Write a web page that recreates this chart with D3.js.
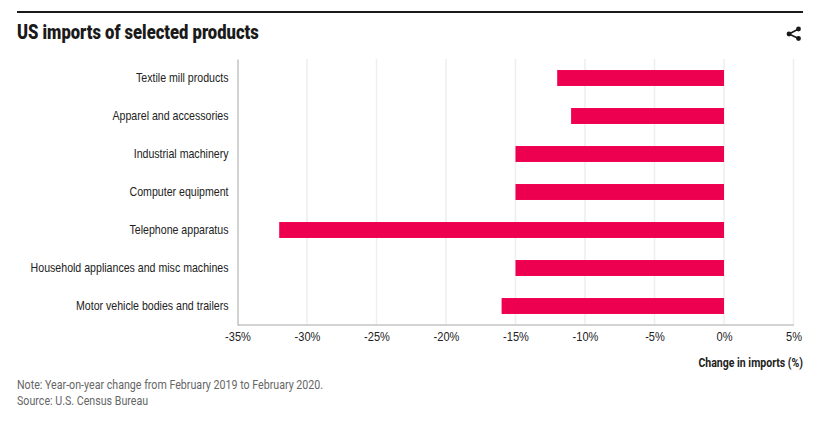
<!DOCTYPE html>
<html>
<head>
<meta charset="utf-8">
<script src="https://cdn.jsdelivr.net/npm/d3@7"></script>
<style>
  body { margin: 0; background: #fff; }
  svg { display: block; font-family: "Roboto", sans-serif; }
  .tick text { font-size: 13px; fill: #222; }
  .domain { stroke: #a6a6a6; }
</style>
</head>
<body>
<svg id="chart" width="837" height="423"></svg>
<script>
const categories = [
    "Textile mill products",
    "Apparel and accessories",
    "Industrial machinery",
    "Computer equipment",
    "Telephone apparatus",
    "Household appliances and misc machines",
    "Motor vehicle bodies and trailers"
];
const changes = [-12, -11, -15, -15, -32, -15, -16];
const xTicks = [-35, -30, -25, -20, -15, -10, -5, 0, 5];

// no condensed font installed, so squeeze the glyphs
function condense(sel, k) {
    sel.each(function() {
        let len = this.getComputedTextLength();
        d3.select(this).attr("textLength", len * k).attr("lengthAdjust", "spacingAndGlyphs");
    });
}

function createChart() {
    let svg = d3.select("#chart");

    let x = d3.scaleLinear().domain([-35, 5]).range([237.5, 793.5]);
    let y = d3.scaleBand().domain(categories).range([59, 325]).paddingInner(0.58).paddingOuter(0.29);

    // top rule and title
    svg.append("rect").attr("x", 17).attr("y", 11).attr("width", 786).attr("height", 2).attr("fill", "#1a1a1a");
    svg.append("text").attr("x", 17).attr("y", 39)
        .style("font-size", "21px").style("font-weight", "900").attr("fill", "#1a1a1a")
        .text("US imports of selected products")
        .call(condense, 0.79);

    // grid
    svg.append("g").selectAll("line")
        .data(xTicks.slice(1))
        .enter().append("line")
        .attr("x1", d => x(d)).attr("x2", d => x(d))
        .attr("y1", 59).attr("y2", 324)
        .attr("stroke", "#eeeeee")
        .attr("stroke-width", 1.5);

    // bars
    svg.append("g").selectAll("rect")
        .data(categories)
        .enter().append("rect")
        .attr("x", (d, i) => x(changes[i]))
        .attr("y", d => y(d))
        .attr("width", (d, i) => x(0) - x(changes[i]))
        .attr("height", y.bandwidth())
        .attr("fill", "#ee0051");

    // axes
    let xAxis = svg.append("g").attr("transform", "translate(0,324.5)")
        .call(d3.axisBottom(x).tickValues(xTicks).tickFormat(d => d + "%").tickSize(0).tickPadding(7));
    let yAxis = svg.append("g").attr("transform", "translate(237.5,0)")
        .call(d3.axisLeft(y).tickSize(0).tickPadding(9));
    svg.selectAll(".domain").attr("fill", "none");
    xAxis.selectAll("text").call(condense, 0.85);
    yAxis.selectAll("text").call(condense, 0.815);

    svg.append("text").attr("x", 803).attr("y", 367).attr("text-anchor", "end")
        .style("font-size", "13px").style("font-weight", "bold").attr("fill", "#222")
        .text("Change in imports (%)")
        .call(condense, 0.81);

    // footer
    svg.append("text").attr("x", 17).attr("y", 389)
        .style("font-size", "13px").attr("fill", "#666")
        .text("Note: Year-on-year change from February 2019 to February 2020.")
        .call(condense, 0.82);
    svg.append("text").attr("x", 17).attr("y", 405)
        .style("font-size", "13px").attr("fill", "#666")
        .text("Source: U.S. Census Bureau")
        .call(condense, 0.82);

    // share icon
    let icon = svg.append("g").attr("fill", "#1a1a1a").attr("stroke", "#1a1a1a");
    let pts = [[789, 34], [798.5, 29], [798.5, 38.5]];
    icon.selectAll("circle").data(pts).enter().append("circle")
        .attr("cx", d => d[0]).attr("cy", d => d[1]).attr("r", 2.4).attr("stroke", "none");
    icon.append("path").attr("fill", "none").attr("stroke-width", 1.6)
        .attr("d", d3.line()([pts[1], pts[0], pts[2]]));
}

window.onload = function() {
    createChart();
}
</script>
</body>
</html>
